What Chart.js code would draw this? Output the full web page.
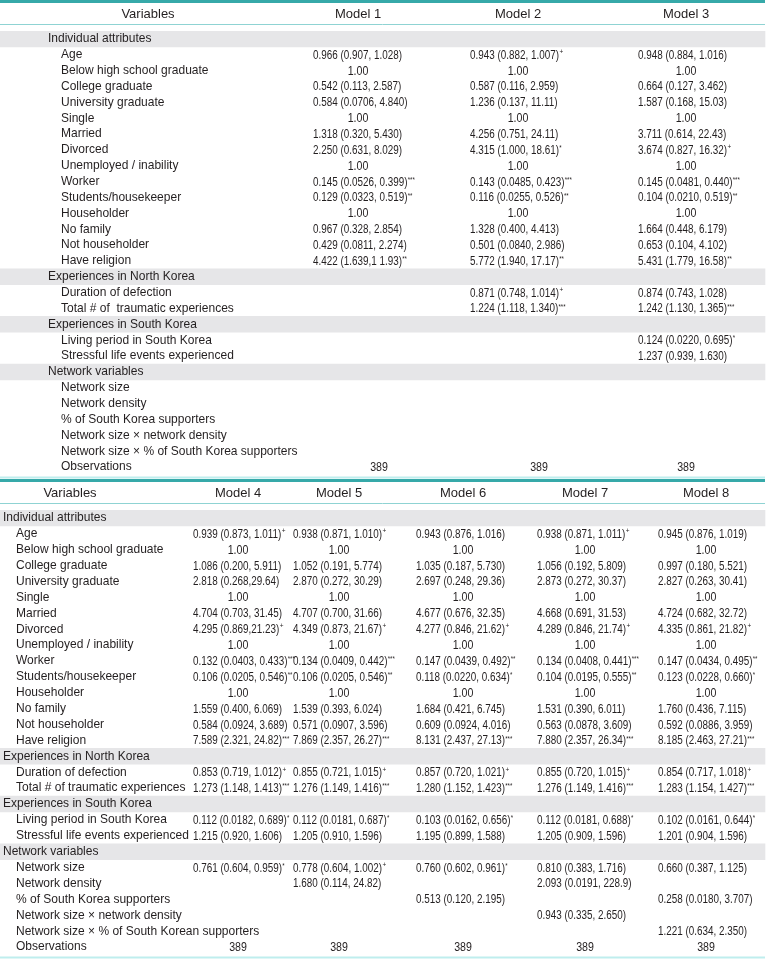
<!DOCTYPE html>
<html>
<head>
<meta charset="utf-8">
<script src="https://cdn.jsdelivr.net/npm/chart.js@4/dist/chart.umd.min.js"></script>
<style>
  body { margin: 0; background: #fff; }
  .box { position: relative; width: 768px; }
  #topBox { height: 479px; }
  #bottomBox { height: 480px; }
</style>
</head>
<body>
<div class="box" id="topBox"><canvas id="topTable"></canvas></div>
<div class="box" id="bottomBox"><canvas id="bottomTable"></canvas></div>
<script>
// row labels (same order in both tables)
const rowsTop = [
    'Individual attributes', 'Age', 'Below high school graduate', 'College graduate', 'University graduate',
    'Single', 'Married', 'Divorced', 'Unemployed / inability', 'Worker', 'Students/housekeeper',
    'Householder', 'No family', 'Not householder', 'Have religion',
    'Experiences in North Korea', 'Duration of defection', 'Total # of  traumatic experiences',
    'Experiences in South Korea', 'Living period in South Korea', 'Stressful life events experienced',
    'Network variables', 'Network size', 'Network density', '% of South Korea supporters',
    'Network size \u00d7 network density', 'Network size \u00d7 % of South Korea supporters', 'Observations'
];
const rowsBottom = rowsTop.slice();
rowsBottom[17] = 'Total # of traumatic experiences';
rowsBottom[26] = 'Network size \u00d7 % of South Korean supporters';

// rows that are section headings (grey bands)
const sectionRows = [0, 15, 18, 21];

const headersTop = ['Model 1', 'Model 2', 'Model 3'];
const headersBottom = ['Model 4', 'Model 5', 'Model 6', 'Model 7', 'Model 8'];

// odds ratios (95% CI), one entry per row
const model1 = ['', '0.966 (0.907, 1.028)', '1.00', '0.542 (0.113, 2.587)', '0.584 (0.0706, 4.840)', '1.00',
    '1.318 (0.320, 5.430)', '2.250 (0.631, 8.029)', '1.00', '0.145 (0.0526, 0.399)***', '0.129 (0.0323, 0.519)**',
    '1.00', '0.967 (0.328, 2.854)', '0.429 (0.0811, 2.274)', '4.422 (1.639,1 1.93)**',
    '', '', '', '', '', '', '', '', '', '', '', '', '389'];
const model2 = ['', '0.943 (0.882, 1.007)+', '1.00', '0.587 (0.116, 2.959)', '1.236 (0.137, 11.11)', '1.00',
    '4.256 (0.751, 24.11)', '4.315 (1.000, 18.61)*', '1.00', '0.143 (0.0485, 0.423)***', '0.116 (0.0255, 0.526)**',
    '1.00', '1.328 (0.400, 4.413)', '0.501 (0.0840, 2.986)', '5.772 (1.940, 17.17)**',
    '', '0.871 (0.748, 1.014)+', '1.224 (1.118, 1.340)***', '', '', '', '', '', '', '', '', '', '389'];
const model3 = ['', '0.948 (0.884, 1.016)', '1.00', '0.664 (0.127, 3.462)', '1.587 (0.168, 15.03)', '1.00',
    '3.711 (0.614, 22.43)', '3.674 (0.827, 16.32)+', '1.00', '0.145 (0.0481, 0.440)***', '0.104 (0.0210, 0.519)**',
    '1.00', '1.664 (0.448, 6.179)', '0.653 (0.104, 4.102)', '5.431 (1.779, 16.58)**',
    '', '0.874 (0.743, 1.028)', '1.242 (1.130, 1.365)***', '', '0.124 (0.0220, 0.695)*', '1.237 (0.939, 1.630)',
    '', '', '', '', '', '', '389'];
const model4 = ['', '0.939 (0.873, 1.011)+', '1.00', '1.086 (0.200, 5.911)', '2.818 (0.268,29.64)', '1.00',
    '4.704 (0.703, 31.45)', '4.295 (0.869,21.23)+', '1.00', '0.132 (0.0403, 0.433)***', '0.106 (0.0205, 0.546)**',
    '1.00', '1.559 (0.400, 6.069)', '0.584 (0.0924, 3.689)', '7.589 (2.321, 24.82)***',
    '', '0.853 (0.719, 1.012)+', '1.273 (1.148, 1.413)***', '', '0.112 (0.0182, 0.689)*', '1.215 (0.920, 1.606)',
    '', '0.761 (0.604, 0.959)*', '', '', '', '', '389'];
const model5 = ['', '0.938 (0.871, 1.010)+', '1.00', '1.052 (0.191, 5.774)', '2.870 (0.272, 30.29)', '1.00',
    '4.707 (0.700, 31.66)', '4.349 (0.873, 21.67)+', '1.00', '0.134 (0.0409, 0.442)***', '0.106 (0.0205, 0.546)**',
    '1.00', '1.539 (0.393, 6.024)', '0.571 (0.0907, 3.596)', '7.869 (2.357, 26.27)***',
    '', '0.855 (0.721, 1.015)+', '1.276 (1.149, 1.416)***', '', '0.112 (0.0181, 0.687)*', '1.205 (0.910, 1.596)',
    '', '0.778 (0.604, 1.002)+', '1.680 (0.114, 24.82)', '', '', '', '389'];
const model6 = ['', '0.943 (0.876, 1.016)', '1.00', '1.035 (0.187, 5.730)', '2.697 (0.248, 29.36)', '1.00',
    '4.677 (0.676, 32.35)', '4.277 (0.846, 21.62)+', '1.00', '0.147 (0.0439, 0.492)**', '0.118 (0.0220, 0.634)*',
    '1.00', '1.684 (0.421, 6.745)', '0.609 (0.0924, 4.016)', '8.131 (2.437, 27.13)***',
    '', '0.857 (0.720, 1.021)+', '1.280 (1.152, 1.423)***', '', '0.103 (0.0162, 0.656)*', '1.195 (0.899, 1.588)',
    '', '0.760 (0.602, 0.961)*', '', '0.513 (0.120, 2.195)', '', '', '389'];
const model7 = ['', '0.938 (0.871, 1.011)+', '1.00', '1.056 (0.192, 5.809)', '2.873 (0.272, 30.37)', '1.00',
    '4.668 (0.691, 31.53)', '4.289 (0.846, 21.74)+', '1.00', '0.134 (0.0408, 0.441)***', '0.104 (0.0195, 0.555)**',
    '1.00', '1.531 (0.390, 6.011)', '0.563 (0.0878, 3.609)', '7.880 (2.357, 26.34)***',
    '', '0.855 (0.720, 1.015)+', '1.276 (1.149, 1.416)***', '', '0.112 (0.0181, 0.688)*', '1.205 (0.909, 1.596)',
    '', '0.810 (0.383, 1.716)', '2.093 (0.0191, 228.9)', '', '0.943 (0.335, 2.650)', '', '389'];
const model8 = ['', '0.945 (0.876, 1.019)', '1.00', '0.997 (0.180, 5.521)', '2.827 (0.263, 30.41)', '1.00',
    '4.724 (0.682, 32.72)', '4.335 (0.861, 21.82)+', '1.00', '0.147 (0.0434, 0.495)**', '0.123 (0.0228, 0.660)*',
    '1.00', '1.760 (0.436, 7.115)', '0.592 (0.0886, 3.959)', '8.185 (2.463, 27.21)***',
    '', '0.854 (0.717, 1.018)+', '1.283 (1.154, 1.427)***', '', '0.102 (0.0161, 0.644)*', '1.201 (0.904, 1.596)',
    '', '0.660 (0.387, 1.125)', '', '0.258 (0.0180, 3.707)', '', '1.221 (0.634, 2.350)', '389'];

const FONT = '"Liberation Sans", Arial, sans-serif';
const INK = '#231f20';

// draws text, compressing it horizontally by sx
function drawText(ctx, text, x, y, size, align, sx) {
    ctx.font = size + 'px ' + FONT;
    const w = ctx.measureText(text).width * sx;
    let left = x;
    if (align === 'center') left = x - w / 2;
    ctx.save();
    ctx.translate(left, y);
    ctx.scale(sx, 1);
    ctx.textAlign = 'left';
    ctx.fillText(text, 0, 0);
    ctx.restore();
    return w;
}

function hline(ctx, x0, x1, y, width, color) {
    ctx.beginPath();
    ctx.lineWidth = width;
    ctx.strokeStyle = color;
    ctx.moveTo(x0, y);
    ctx.lineTo(x1, y);
    ctx.stroke();
}

// plugin that writes the cells of the table on the row/column scales
const tableText = {
    id: 'tableText',
    afterDatasetsDraw(chart, args, opts) {
        const { ctx, chartArea } = chart;
        const x = chart.scales.x, y = chart.scales.y;
        const xr = x.getPixelForValue(opts.right);
        ctx.save();
        ctx.fillStyle = INK;
        ctx.textBaseline = 'middle';

        hline(ctx, 0, xr, 1.5, 3, '#36a9a9');
        hline(ctx, 0, xr, chartArea.top - 6.5, 1, '#8fd3d3');
        hline(ctx, 0, xr, chartArea.bottom + 2.5, 2, '#bfeeee');

        const headY = (chartArea.top - 6.5 + 3) / 2 + 1;
        drawText(ctx, 'Variables', x.getPixelForValue(opts.varCenter), headY, 13, 'center', 1);
        opts.cols.forEach((c, k) => {
            drawText(ctx, opts.headers[k], x.getPixelForValue(c.center), headY, 13, 'center', 1);
        });

        opts.rows.forEach((label, i) => {
            const py = y.getPixelForValue(i);
            const isSection = sectionRows.includes(i);
            drawText(ctx, label, x.getPixelForValue(isSection ? opts.sectionX : opts.itemX), py, 12.2, 'left', 0.985);
            opts.series.forEach((vals, k) => {
                const v = vals[i];
                if (!v) return;
                const c = opts.cols[k];
                if (/^[\d.]+$/.test(v)) {
                    const cx = i === opts.rows.length - 1 && c.obs ? c.obs : c.center;
                    drawText(ctx, v, x.getPixelForValue(cx), py + 0.5, 12.5, 'center', 0.85);
                    return;
                }
                const m = v.match(/^(.*?)([*+]*)$/);
                const lx = x.getPixelForValue(c.left);
                const w = drawText(ctx, m[1], lx, py + 0.5, 12.5, 'left', 0.79);
                if (m[2]) {
                    if (m[2] === '+') drawText(ctx, '+', lx + w + 0.5, py - 2.5, 6.5, 'left', 1);
                    else drawText(ctx, m[2], lx + w + 0.3, py - 2, 7.5, 'left', 0.8);
                }
            });
        });
        ctx.restore();
    }
};

function makeTable(id, rows, headers, series, layout) {
    const bands = rows.map((r, i) => sectionRows.includes(i) ? [0, layout.right] : null);
    return new Chart(document.getElementById(id), {
        type: 'bar',
        data: {
            labels: rows,
            datasets: [{
                data: bands,
                backgroundColor: '#e6e6e8',
                borderWidth: 0,
                barPercentage: 1,
                categoryPercentage: 1
            }]
        },
        options: {
            indexAxis: 'y',
            responsive: true,
            maintainAspectRatio: false,
            animation: false,
            layout: { padding: { top: 31, bottom: 4, left: 0, right: 0 } },
            scales: {
                x: { type: 'linear', min: 0, max: 768, display: false },
                y: { type: 'category', display: false, offset: true }
            },
            plugins: {
                legend: { display: false },
                tooltip: { enabled: false },
                tableText: Object.assign({ rows: rows, headers: headers, series: series }, layout)
            }
        },
        plugins: [tableText]
    });
}

makeTable('topTable', rowsTop, headersTop, [model1, model2, model3], {
    right: 765, varCenter: 148, sectionX: 48, itemX: 61,
    cols: [
        { center: 358, left: 313, obs: 379 },
        { center: 518, left: 470, obs: 539 },
        { center: 686, left: 638 }
    ]
});

makeTable('bottomTable', rowsBottom, headersBottom, [model4, model5, model6, model7, model8], {
    right: 765, varCenter: 70, sectionX: 3, itemX: 16,
    cols: [
        { center: 238, left: 193 },
        { center: 339, left: 293 },
        { center: 463, left: 416 },
        { center: 585, left: 537 },
        { center: 706, left: 658 }
    ]
});
</script>
</body>
</html>
